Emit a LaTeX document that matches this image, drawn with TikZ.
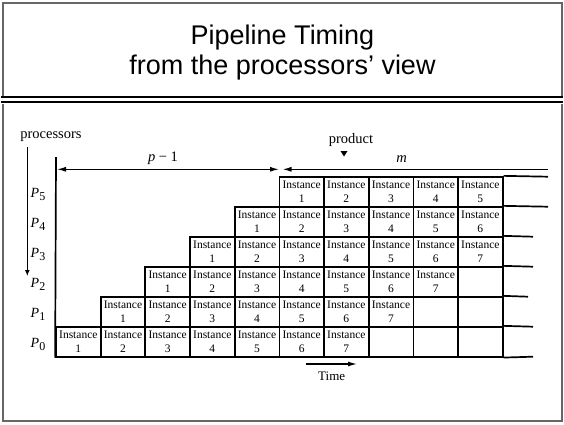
\documentclass[tikz,border=0pt]{standalone}
\usepackage{fontspec}
\setmainfont{Liberation Serif}
\newfontfamily\titlefont{Liberation Sans}
\usetikzlibrary{arrows.meta}
\begin{document}
\begin{tikzpicture}[x=1pt,y=-1pt,
  cell/.style={draw, line width=1.7pt, minimum width=44.67pt, minimum height=30pt,
    inner sep=0pt, align=center, font=\fontsize{11.5}{14}\selectfont},
  gridline/.style={line width=1.7pt},
  dimarrow/.style={line width=1.3pt},
  lbl/.style={font=\fontsize{14.5}{16}\selectfont, inner sep=0pt},
  plbl/.style={font=\fontsize{14}{16}\selectfont, inner sep=0pt},
  frame/.style={draw=black!60, line width=1.3pt}
]
\useasboundingbox (0,0) rectangle (564,424);
% slide frame
\draw[frame] (3,3) rectangle (562,421);
\coordinate (dl1a) at (1,97); \coordinate (dl1b) at (563,97);
\coordinate (dl2a) at (1,102); \coordinate (dl2b) at (563,102);
\fill[white] (1,95.5) rectangle (563,103.5);
\draw[line width=1.2pt] (dl1a) -- (dl1b);
\draw[line width=1.2pt] (dl2a) -- (dl2b);
% title
\node[font=\titlefont\fontsize{27}{30}\selectfont, align=center] (title) at (282.5,53)
  {Pipeline Timing\\from the processors’ view};
% cells
\foreach \j in {0,...,5}{
  \foreach \k in {\j,...,9}{
    \pgfmathtruncatemacro\inum{\k-\j+1}
    \ifnum\inum<8 \def\celltxt{Instance\\\inum}\else\def\celltxt{}\fi
    \node[cell] (c\j-\k) at ({56+44.67*\k+22.335},{326.7-30*\j+15}) {\celltxt};
  }
}
% right extensions
\coordinate (e5) at (548,176.7);
\coordinate (e4) at (548,206.7);
\coordinate (e3) at (533,236.7);
\coordinate (e2) at (533,266.7);
\coordinate (e1) at (528,296.7);
\coordinate (e0) at (533,326.7);
\coordinate (eb) at (533,356.7);
\foreach \j in {0,...,5}{ \draw[gridline] (c\j-9.north east) -- (e\j); }
\draw[gridline] (c0-9.south east) -- (eb);
% left axis
\coordinate (axtop) at (56,157);
\draw[gridline] (axtop) -- (c0-0.south west);
% dimension arrows
\coordinate (da) at (57,169.3);
\coordinate (db) at (279,169.3);
\coordinate (mb) at (282.5,169.3);
\coordinate (me) at (548,169.3);
\draw[dimarrow, {Latex[length=9pt,width=5pt]}-{Latex[length=9pt,width=5pt]}] (da) -- (db);
\draw[dimarrow, -{Latex[length=9pt,width=5pt]}] (me) -- (mb);
\node[lbl] (pm1) at (163,158) {\textit{p} − 1};
\node[lbl] (mlbl) at (401.7,159) {\textit{m}};
\node[lbl] (prod) at (351,140) {product};
\fill (340.5,151) -- (347.5,151) -- (344,156.5) -- cycle;
% processors axis
\node[lbl] (procs) at (51,137) {processors};
\coordinate (pa) at (27.3,147);
\coordinate (pb) at (27.3,276);
\draw[line width=1.1pt, -{Latex[length=6pt,width=5pt]}] (pa) -- (pb);
\foreach \j in {0,...,5}{
  \node[plbl] (P\j) at (38,{326.7-30*\j+17.5}) {\textit{P}\raisebox{-0.45ex}{\fontsize{12}{12}\selectfont\j}};
}
% time
\coordinate (ta) at (306,364);
\coordinate (tb) at (357,364);
\draw[line width=1.3pt, -{Latex[length=9pt,width=5pt]}] (ta) -- (tb);
\node[font=\fontsize{13}{15}\selectfont, inner sep=0pt] (time) at (331.7,376) {Time};
\end{tikzpicture}
\end{document}
